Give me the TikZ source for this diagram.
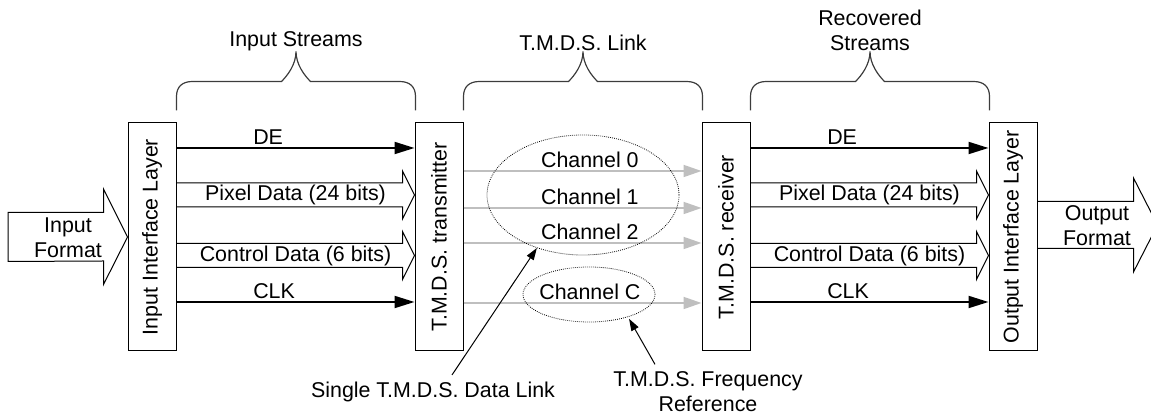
\documentclass[tikz,border=0pt]{standalone}
\usepackage{fontspec}
\setmainfont{Liberation Sans}
\usepackage{graphicx}
\usetikzlibrary{arrows.meta,calc,shapes.geometric}
\definecolor{chanGray}{RGB}{191,191,191}
\definecolor{braceGray}{RGB}{60,60,60}

\begin{document}
\begin{tikzpicture}[
  x=0.5pt, y=-0.5pt,
  font=\fontsize{10.7}{12.5}\selectfont,
  layer/.style={draw, line width=0.5pt, minimum width=24pt, minimum height=114pt, inner sep=0pt},
  sig/.style={line width=1pt, -{Triangle[length=10pt,width=6pt]}},
  chan/.style={chanGray, line width=0.9pt, -{Triangle[length=9pt,width=6pt]}},
  fat/.style={line width=0.5pt},
  ring/.style={draw, ellipse, line width=0.4pt, dash pattern=on 0.4pt off 0.6pt, inner sep=0pt},
  pointer/.style={line width=0.5pt, -{Triangle[length=6pt,width=4pt]}},
  brace/.style={braceGray, line width=0.6pt},
  ]
  \useasboundingbox (0,0) rectangle (1151,415);
  \clip (0,0) rectangle (1151,415);

  % boxes
  \node[layer] (inl)  at (152,237)  {\rotatebox{90}{Input Interface Layer}};
  \node[layer] (tx)   at (439,237)  {\rotatebox{90}{T.M.D.S. transmitter}};
  \node[layer] (rx)   at (726,237)  {\rotatebox{90}{T.M.D.S. receiver}};
  \node[layer] (outl) at (1013,237) {\rotatebox{90}{Output Interface Layer}};

  % rows
  \coordinate (rDE)  at (0,148);
  \coordinate (rPix) at (0,195);
  \coordinate (rCtl) at (0,255.5);
  \coordinate (rCLK) at (0,302);
  \coordinate (rC0)  at (0,171);
  \coordinate (rC1)  at (0,208);
  \coordinate (rC2)  at (0,243);
  \coordinate (rCC)  at (0,303);

  % streams on both sides
  \foreach \a/\b in {inl/tx, rx/outl}
  {
    \draw[sig] (\a.east |- rDE) -- (\b.west |- rDE)
      node[pos=0.31, anchor=south west, inner sep=1pt] {DE};
    \draw[sig] (\a.east |- rCLK) -- (\b.west |- rCLK)
      node[pos=0.31, anchor=south west, inner sep=1pt] {CLK};
    \foreach \r/\t in {rPix/Pixel Data (24 bits), rCtl/Control Data (6 bits)}
    {
      \draw[fat] ($(\a.east |- \r)+(0,-12)$) -- ($(\b.west |- \r)+(-12,-12)$) -- ++(0,-12)
        -- (\b.west |- \r) -- ++(-12,24) -- ++(0,-12) -- ($(\a.east |- \r)+(0,12)$);
      \node at ($(\a.east |- \r)!0.5!(\b.west |- \r)$) {\t};
    }
  }

  % input / output format
  \draw[fat] (8,212.5) -- ($(inl.west)+(-24,-24.5)$) -- ++(0,-23.5) -- (inl.west)
    -- ++(-24,47.5) -- ++(0,-23.5) -- (8,261.5) -- cycle;
  \node[align=center] (inFmt) at (68,238) {Input\\Format};
  \draw[fat] ($(outl.east)+(0,-35.5)$) -- ++(96,0) -- ++(0,-23.5) -- ++(24,47)
    -- ++(-24,47) -- ++(0,-23.5) -- ($(outl.east)+(0,11.5)$);
  \node[align=center] (outFmt) at (1097,226) {Output\\Format};

  % link channels
  \foreach \r/\t in {rC0/Channel 0, rC1/Channel 1, rC2/Channel 2, rCC/Channel C}
    \draw[chan] (tx.east |- \r) -- (rx.west |- \r)
      node[pos=0.531, above, inner sep=1pt, text=black] {\t};

  \node[ring, minimum width=96pt, minimum height=60pt] (dlink) at (583,195) {};
  \node[ring, minimum width=66pt, minimum height=27.5pt] (fref) at (589,294.5) {};

  \node (dlabel) at (433,392) {Single T.M.D.S. Data Link};
  \node[align=center] (flabel) at (708,391.5) {T.M.D.S. Frequency\\Reference};
  \draw[pointer] ($(dlabel.north)+(19,0)$) -- (dlink.229);
  \draw[pointer, shorten >=1pt] ($(flabel.north)+(-53,0)$) -- (fref.330);

  % braces
  \foreach \a/\b/\t in {inl/tx/Input Streams, tx/rx/T.M.D.S. Link, rx/outl/{Recovered\\Streams}}
    \draw[brace, shift={(\a.north east)}] (0,-12) -- (0,-26)
      .. controls (0,-36) and (6,-41) .. (16,-41) -- (105,-41)
      .. controls (111,-47) and (119.5,-58) .. (119.5,-71)
      node[above, inner sep=0pt, align=center, text=black] {\t}
      .. controls (119.5,-58) and (128,-47) .. (134,-41) -- (223,-41)
      .. controls (233,-41) and (239,-36) .. (239,-26) -- (239,-12);
\end{tikzpicture}
\end{document}
